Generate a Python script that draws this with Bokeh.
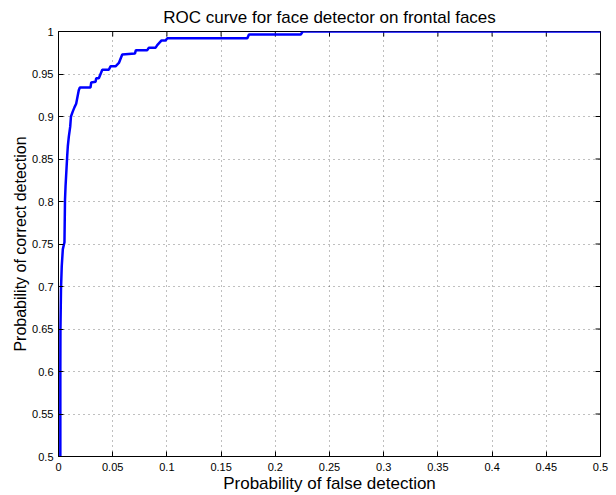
import math
from bokeh.plotting import figure
from bokeh.models import FixedTicker, Range1d
from bokeh.embed import file_html
from bokeh.resources import INLINE

# ROC curve data (false detection rate, correct detection rate)
false_rate = [0.0017, 0.0017, 0.0018, 0.0023, 0.0030, 0.0040, 0.0055, 0.0060, 0.0065,
              0.0074, 0.0080, 0.0086, 0.0095, 0.0108, 0.0115, 0.0132, 0.0148, 0.0163,
              0.0175, 0.0187, 0.0197, 0.0295, 0.0302, 0.0342, 0.0348, 0.0372, 0.0404,
              0.0464, 0.0480, 0.0526, 0.0557, 0.0588, 0.0705, 0.0714, 0.0819, 0.0834,
              0.0896, 0.0911, 0.0951, 0.0988, 0.1004, 0.1742, 0.1757, 0.2235, 0.2253, 0.5]
correct_rate = [0.500, 0.603, 0.650, 0.697, 0.724, 0.744, 0.752, 0.802, 0.818,
                0.839, 0.853, 0.865, 0.876, 0.888, 0.900, 0.906, 0.911, 0.915,
                0.923, 0.931, 0.934, 0.934, 0.940, 0.941, 0.945, 0.945, 0.955,
                0.955, 0.959, 0.959, 0.963, 0.973, 0.974, 0.978, 0.978, 0.981,
                0.981, 0.984, 0.9895, 0.9895, 0.992, 0.992, 0.9965, 0.9965, 1.0, 1.0]

x_ticks = [0, 0.05, 0.1, 0.15, 0.2, 0.25, 0.3, 0.35, 0.4, 0.45, 0.5]
x_tick_labels = ["0", "0.05", "0.1", "0.15", "0.2", "0.25", "0.3", "0.35", "0.4", "0.45", "0.5"]
y_ticks = [0.5, 0.55, 0.6, 0.65, 0.7, 0.75, 0.8, 0.85, 0.9, 0.95, 1.0]
y_tick_labels = ["0.5", "0.55", "0.6", "0.65", "0.7", "0.75", "0.8", "0.85", "0.9", "0.95", "1"]

X_MIN, X_MAX = 0.0, 0.5
Y_MIN, Y_MAX = 0.5, 1.0

FONT = "Liberation Sans"

p = figure(width=614, height=495, output_backend="svg", toolbar_location=None,
           x_range=Range1d(X_MIN, X_MAX), y_range=Range1d(Y_MIN, Y_MAX),
           title="ROC curve for face detector on frontal faces",
           min_border_left=58, min_border_right=14, min_border_top=31, min_border_bottom=37)

p.title.align = "center"
p.title.text_font = FONT
p.title.text_font_size = "17px"
p.title.text_font_style = "normal"
p.title.text_color = "black"
p.title.standoff = 9

p.outline_line_color = "black"
p.outline_line_width = 1
p.background_fill_color = "white"
p.border_fill_color = "white"

for ax, ticks, labels in ((p.xaxis[0], x_ticks, x_tick_labels), (p.yaxis[0], y_ticks, y_tick_labels)):
    ax.ticker = FixedTicker(ticks=ticks)
    ax.major_label_overrides = {t: l for t, l in zip(ticks, labels)}
    ax.minor_tick_line_color = None
    ax.major_tick_in = 5
    ax.major_tick_out = 0
    ax.axis_line_color = "black"
    ax.major_tick_line_color = "black"
    ax.major_label_text_font = FONT
    ax.major_label_text_font_size = "11px"
    ax.major_label_text_color = "black"
    ax.axis_label_text_font = FONT
    ax.axis_label_text_font_style = "normal"
    ax.axis_label_text_color = "black"
    ax.axis_label_standoff = 0

p.xaxis.axis_label = "Probability of false detection"
p.yaxis.axis_label = "Probability of correct detection"
p.xaxis.axis_label_text_font_size = "17px"
p.yaxis.axis_label_text_font_size = "16px"
p.xaxis.major_label_standoff = 6
p.yaxis.major_label_standoff = 5

# Box ticks along the top and right edges (half of each dash is clipped by the frame)
p.scatter(x_ticks, [Y_MAX] * len(x_ticks), marker="dash", angle=math.pi / 2, size=10,
          line_color="black", line_width=1)
p.scatter([X_MAX] * len(y_ticks), y_ticks, marker="dash", size=10,
          line_color="black", line_width=1)

for g, ticks in ((p.xgrid[0], x_ticks), (p.ygrid[0], y_ticks)):
    g.ticker = FixedTicker(ticks=ticks)
    g.grid_line_color = "#000000"
    g.grid_line_alpha = 0.5
    g.grid_line_dash = "1 4"
    g.grid_line_width = 1

p.line(false_rate, correct_rate, line_color="#0000ff", line_width=2.5)

open("out.html", "w").write(file_html(p, INLINE))
